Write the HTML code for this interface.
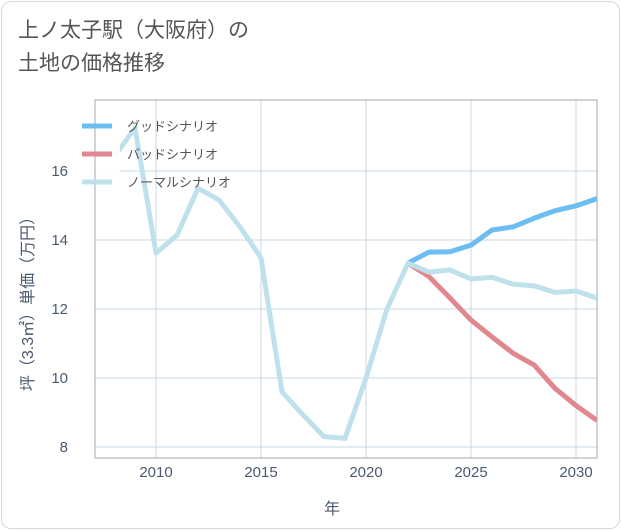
<!DOCTYPE html>
<html><head><meta charset="utf-8">
<style>
body{margin:0;background:#fff;font-family:"Liberation Sans","Noto Sans CJK JP",sans-serif;}
#card{position:absolute;left:1px;top:1px;width:617px;height:526px;border:1px solid #d8d8d8;border-radius:10px;background:#fff;}
#title{position:absolute;left:18px;top:14px;font-size:21px;line-height:33px;color:#555;}
</style></head><body>
<div id="card"></div>
<div id="title">上ノ太子駅（大阪府）の<br>土地の価格推移</div>
<svg id="chart" width="621" height="530" style="position:absolute;left:0;top:0"></svg>
<script>
const years=[2008,2009,2010,2011,2012,2013,2014,2015,2016,2017,2018,2019,2020,2021,2022,2023,2024,2025,2026,2027,2028,2029,2030,2031];
const normalVals=[16.4,17.25,13.62,14.14,15.5,15.16,14.38,13.48,9.6,8.93,8.3,8.25,10.0,12.0,13.33,13.07,13.13,12.87,12.92,12.72,12.67,12.48,12.52,12.32];
const projYears=[2022,2023,2024,2025,2026,2027,2028,2029,2030,2031];
const goodVals=[13.33,13.65,13.66,13.85,14.29,14.38,14.63,14.85,14.99,15.2];
const badVals=[13.33,12.94,12.32,11.68,11.19,10.72,10.38,9.7,9.2,8.77];
const xTicks=[2010,2015,2020,2025,2030];
const yTicks=[8,10,12,14,16];
const L=95,R=597,T=100,B=458;
const x=v=>156+(v-2010)*21;
const y=v=>171+(16-v)*34.5;
const svg=document.getElementById('chart');
const NS='http://www.w3.org/2000/svg';
function mk(t,a){const e=document.createElementNS(NS,t);for(const k in a)e.setAttribute(k,a[k]);svg.appendChild(e);return e;}
const cp=mk('clipPath',{id:'cp'});
const cr=document.createElementNS(NS,'rect');cr.setAttribute('x',L);cr.setAttribute('y',T);cr.setAttribute('width',R-L);cr.setAttribute('height',B-T);cp.appendChild(cr);
xTicks.forEach(t=>{
 const g=mk('line',{x1:x(t),x2:x(t),y1:T,y2:B,stroke:'#c8d8e4','stroke-width':1});
 
 
 const tx=mk('text',{x:x(t),y:477,'text-anchor':'middle','font-size':15,fill:'#4a5a70'});
 tx.textContent=t;
 
 
});
yTicks.forEach(t=>{
 const g=mk('line',{x1:L,x2:R,y1:y(t),y2:y(t),stroke:'#c8d8e4','stroke-width':1});
 
 
 const tx=mk('text',{x:68,y:y(t)+5,'text-anchor':'end','font-size':15,fill:'#4a5a70'});
 tx.textContent=t;
 
 
});
const fr=mk('rect',{x:L,y:T,width:R-L,height:B-T,fill:'none',stroke:'#a0a8b0','stroke-width':1});


function line(xs,vs,color,name){
 const p=mk('polyline',{points:xs.map((v,i)=>x(v)+','+y(vs[i])).join(' '),fill:'none',stroke:color,'stroke-width':5,'stroke-linejoin':'round','clip-path':'url(#cp)'});
 
 
}
line(projYears,goodVals,'#6cbdf2','good-scenario-line');
line(projYears,badVals,'#e0888e','bad-scenario-line');
line(years,normalVals,'#bfe1ec','normal-scenario-line');
const lb=mk('rect',{x:96,y:112,width:24,height:82,fill:'#fff','fill-opacity':0.9});


const leg=[['グッドシナリオ','#6cbdf2'],['バッドシナリオ','#e0888e'],['ノーマルシナリオ','#bfe1ec']];
leg.forEach((l,i)=>{
 const yy=126+i*28;
 const s=mk('line',{x1:82,x2:112,y1:yy,y2:yy,stroke:l[1],'stroke-width':5});
 
 
 const t=mk('text',{x:127,y:yy+5,'font-size':13,fill:'#555'});
 t.textContent=l[0];
 
 
});
const xt=mk('text',{x:332,y:514,'text-anchor':'middle','font-size':16,fill:'#4a5a70'});
xt.textContent='年';


const yt=mk('text',{x:0,y:0,'text-anchor':'middle','font-size':16,fill:'#4a5a70',transform:'translate(33,300) rotate(-90)'});
yt.textContent='坪（3.3㎡）単価（万円）';


</script>
</body></html>
